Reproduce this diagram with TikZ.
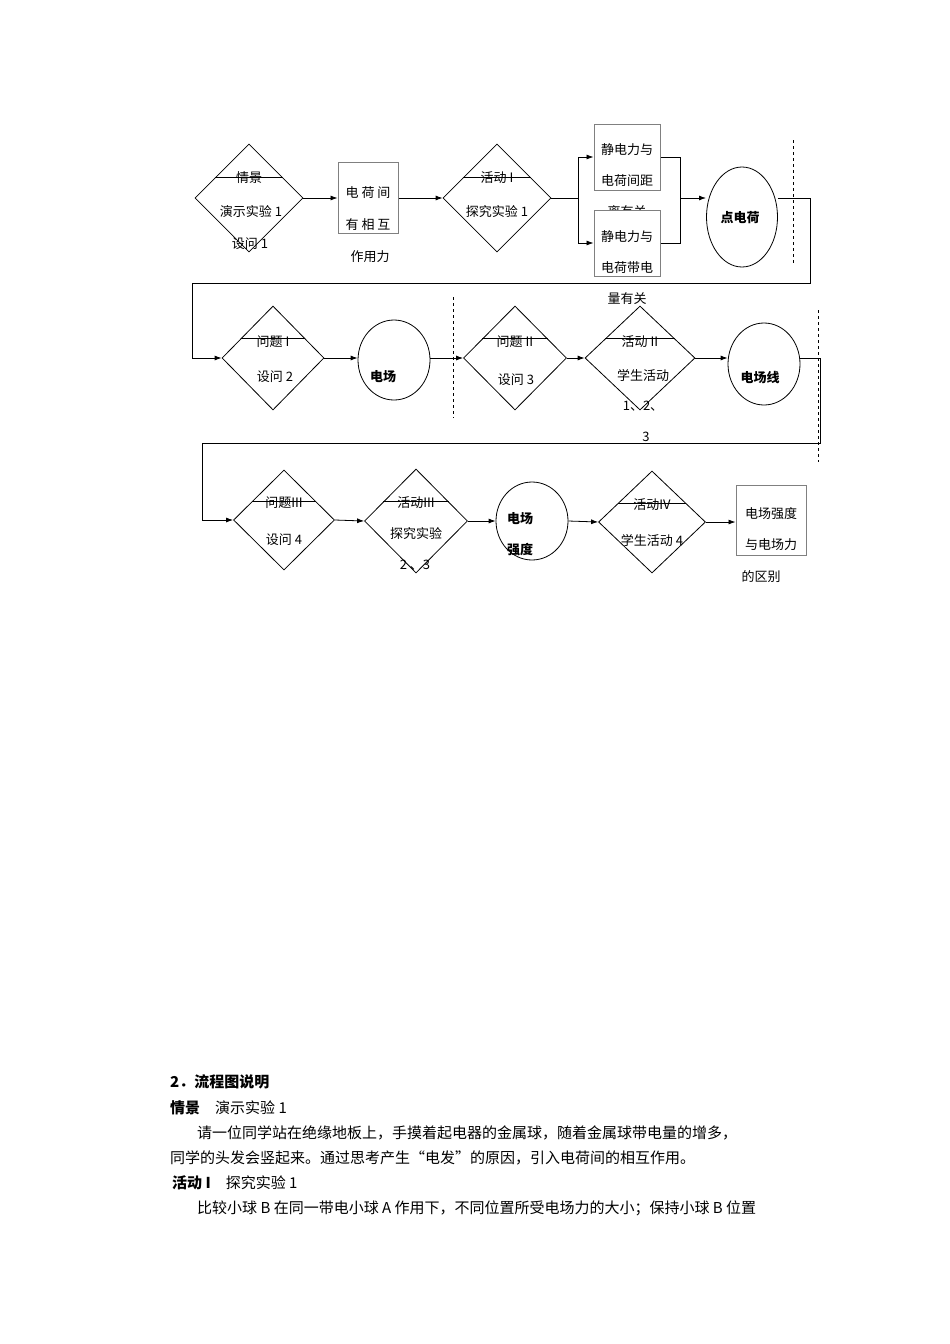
\documentclass[tikz,border=0pt]{standalone}
\usepackage{fontspec}
\setmainfont{Noto Sans CJK SC}
\usetikzlibrary{shapes.geometric,arrows.meta,calc}
\tikzset{
 dia/.style={draw,diamond,inner sep=0,minimum width=#1,minimum height=104,line width=0.8pt},
 cir/.style={draw,ellipse,inner sep=0,line width=0.8pt},
 bx/.style={draw=gray,line width=1pt,inner sep=0,fill=white},
 tx/.style={font=\fontsize{13}{13}\selectfont,inner sep=0},
 bt/.style={font=\fontsize{13}{13}\selectfont\bfseries,inner sep=0},
 ar/.style={-{Latex[length=7pt,width=5pt]},line width=0.8pt},
 ln/.style={line width=0.8pt},
 dsh/.style={dashed,line width=0.7pt},
 pt/.style={font=\fontsize{15}{15}\selectfont,inner sep=0,anchor=west},
 pb/.style={font=\fontsize{15}{15}\selectfont\bfseries,inner sep=0,anchor=west}
}
\newcommand{\strike}[1]{\draw[ln] ($(#1.north)!0.63!(#1.west)$) -- ($(#1.north)!0.63!(#1.east)$);}
\begin{document}
\begin{tikzpicture}[x=1pt,y=-1pt]
\useasboundingbox[fill=white] (0,0) rectangle (950,1344);
% row 1
\node[dia=108,minimum height=108] (d1) at (249,198) {};
\strike{d1}
\node[tx] (d1a) at (249,178) {情景};
\node[tx] (d1b) at (251,212) {演示实验 1};
\node[tx] (d1c) at (250,244) {设问 1};
\node[bx,minimum width=60,minimum height=71] (b1) at (368,198) {};
\node[tx] (b1a) at (368,193) {电 荷 间};
\node[tx] (b1b) at (368,225) {有 相 互};
\node[tx] (b1c) at (370,257) {作用力};
\node[dia=108,minimum height=108] (d2) at (497,198) {};
\strike{d2}
\node[tx] (d2a) at (497,178) {活动 I};
\node[tx] (d2b) at (497,212) {探究实验 1};
\node[bx,minimum width=66,minimum height=66] (bA) at (627,157) {};
\node[tx] (bAa) at (627,150) {静电力与};
\node[tx] (bAb) at (627,181) {电荷间距};
\node[tx] (bAc) at (627,212) {离有关};
\node[bx,minimum width=66,minimum height=66] (bB) at (627,243) {};
\node[tx] (bBa) at (627,237) {静电力与};
\node[tx] (bBb) at (627,268) {电荷带电};
\node[tx] (bBc) at (627,299) {量有关};
\node[cir,minimum width=71,minimum height=100] (c1) at (742,217) {};
\node[bt] (c1a) at (740,218) {点电荷};
\draw[dsh] (793,140) -- (793,265);
\draw[ar] (d1.east) -- (b1.west);
\draw[ar] (b1.east) -- (d2.west);
\coordinate (s1) at (578,198);
\draw[ln] (d2.east) -- (s1);
\draw[ar] (s1) |- (bA.west);
\draw[ar] (s1) |- (bB.west);
\coordinate (j1) at (680,198);
\draw[ln] (bA.east) -| (j1);
\draw[ln] (bB.east) -| (j1);
\draw[ar] (j1) -- (706,198);
% row 2
\node[dia=102] (d3) at (273,358) {};
\strike{d3}
\node[tx] (d3a) at (273,342) {问题 I};
\node[tx] (d3b) at (275,377) {设问 2};
\node[cir,minimum width=72,minimum height=80] (c2) at (394,360) {};
\node[bt] (c2a) at (383,377) {电场};
\node[dia=103] (d4) at (515,358) {};
\strike{d4}
\node[tx] (d4a) at (515,342) {问题 II};
\node[tx] (d4b) at (516,380) {设问 3};
\node[dia=110] (d5) at (640,358) {};
\strike{d5}
\node[tx] (d5a) at (640,342) {活动 II};
\node[tx] (d5b) at (643,375) {学生活动};
\node[tx] (d5c) at (643,406) {1、2、};
\node[tx] (d5d) at (646,437) {3};
\node[cir,minimum width=72,minimum height=82] (c3) at (764,364) {};
\node[bt] (c3a) at (760,378) {电场线};
\draw[dsh] (453,297) -- (453,418);
\draw[dsh] (818,310) -- (818,462);
\coordinate (k1) at (810,198);
\coordinate (k2) at (192,283);
\draw[ar] (c1.east |- 0,198) -- (k1) |- (k2) |- (d3.west);
\draw[ar] (d3.east) -- (c2.west |- 0,358);
\draw[ar] (c2.east |- 0,358) -- (d4.west);
\draw[ar] (d4.east) -- (d5.west);
\draw[ar] (d5.east) -- (c3.west |- 0,358);
% row 3
\node[dia=101,minimum height=100] (d6) at (284,520) {};
\strike{d6}
\node[tx] (d6a) at (284,503) {问题III};
\node[tx] (d6b) at (284,540) {设问 4};
\node[dia=103] (d7) at (416,521) {};
\strike{d7}
\node[tx] (d7a) at (416,503) {活动III};
\node[tx] (d7b) at (416,534) {探究实验};
\node[tx] (d7c) at (415,565) {2 、3};
\node[cir,minimum width=72,minimum height=78] (c4) at (532,521) {};
\node[bt] (c4a) at (520,519) {电场};
\node[bt] (c4b) at (520,550) {强度};
\node[dia=107,minimum height=102] (d8) at (652,522) {};
\strike{d8}
\node[tx] (d8a) at (652,505) {活动IV};
\node[tx] (d8b) at (652,540) {学生活动 4};
\node[bx,minimum width=70,minimum height=70] (b3) at (771,520) {};
\node[tx] (b3a) at (771,514) {电场强度};
\node[tx] (b3b) at (771,545) {与电场力};
\node[tx] (b3c) at (761,577) {的区别};
\coordinate (k3) at (820,358);
\coordinate (k4) at (202,443);
\draw[ar] (c3.east |- 0,358) -- (k3) |- (k4) |- (d6.west);
\draw[ar] (d6.east) -- (d7.west);
\draw[ar] (d7.east) -- (c4.west |- 0,521);
\draw[ar] (c4.east |- 0,521) -- (d8.west);
\draw[ar] (d8.east) -- (b3.west |- 0,522);
% text
\node[pb] (t1) at (170,1082) {2．流程图说明};
\node[pb] (t2) at (170,1108) {情景\quad\mdseries 演示实验 1};
\node[pt] (t3) at (197,1133) {请一位同学站在绝缘地板上，手摸着起电器的金属球，随着金属球带电量的增多，};
\node[pt] (t4) at (170,1158) {同学的头发会竖起来。通过思考产生“电发”的原因，引入电荷间的相互作用。};
\node[pb] (t5) at (172,1183) {活动 I\quad\mdseries 探究实验 1};
\node[pt] (t6) at (197,1208) {比较小球 B 在同一带电小球 A 作用下，不同位置所受电场力的大小；保持小球 B 位置};
\end{tikzpicture}
\end{document}
